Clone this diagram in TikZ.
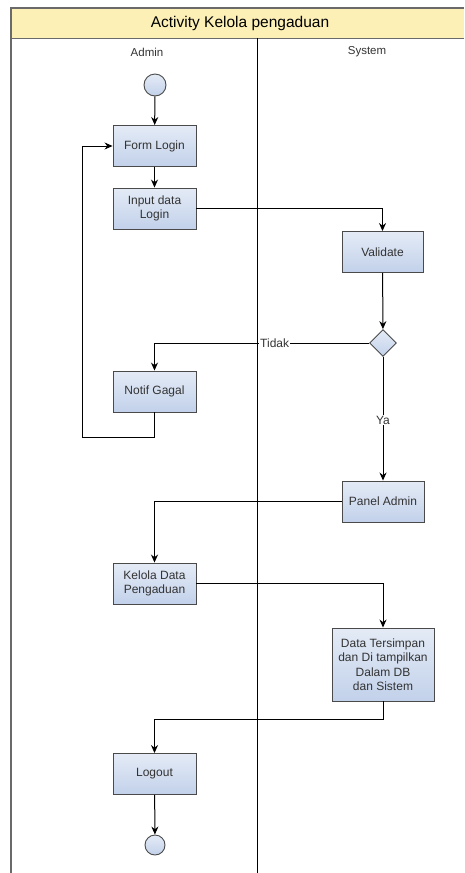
\documentclass[tikz,border=0pt]{standalone}
\usepackage{fontspec}
\setmainfont{Liberation Sans}
\usetikzlibrary{arrows.meta,shapes.geometric}
\definecolor{boxtop}{HTML}{E4EBF6}
\definecolor{boxbot}{HTML}{C2D1EA}
\definecolor{boxline}{HTML}{4A4A4A}
\definecolor{titlefill}{HTML}{FDF0B6}
\definecolor{framegray}{HTML}{6A6A6A}
\definecolor{txt}{HTML}{333333}
\tikzset{
  act/.style={draw=boxline, line width=0.9pt, top color=boxtop, bottom color=boxbot,
    minimum width=83pt, minimum height=41pt, align=center, inner sep=2pt,
    font=\fontsize{12}{14.5}\selectfont, text=txt},
  dot/.style={circle, draw=boxline, line width=0.9pt, top color=boxtop, bottom color=boxbot, inner sep=0pt},
  choice/.style={diamond, aspect=1, draw=boxline, line width=0.9pt, top color=boxtop, bottom color=boxbot,
    inner sep=0pt, minimum size=27pt},
  flow/.style={line width=1pt, -{Stealth[length=8pt,width=7pt]}},
  guard/.style={fill=white, inner sep=1pt, text=txt, font=\fontsize{12}{14}\selectfont}
}
\begin{document}
\begin{tikzpicture}[x=1pt, y=-1pt]
    \useasboundingbox (0,0) rectangle (464,873);
    % swimlane frame
    \fill[titlefill] (11,8) rectangle (464,38);
    \draw[framegray, line width=1.4pt] (11,873) -- (11,8) -- (464,8);
    \draw[framegray, line width=1pt] (11,38) -- (464,38);
    \draw[black, line width=0.9pt] (257,38) -- (257,873);
    \node (title) at (240,23) {\fontsize{15.5}{18}\selectfont Activity Kelola pengaduan};
    \node[text=txt] (admin) at (147,52) {\fontsize{11.5}{13}\selectfont Admin};
    \node[text=txt] (system) at (367,52) {\fontsize{11.5}{13}\selectfont System};
    % activities
    \node[dot, minimum size=22pt] (start) at (155,85) {};
    \node[act] (formlogin) at (154.5,146) {Form Login};
    \node[act] (inputlogin) at (154.5,208.5) {Input data\\Login};
    \node[act, minimum width=81pt] (validate) at (382.5,252) {Validate};
    \node[choice] (cek) at (383,343) {};
    \node[act] (notif) at (154.5,391.5) {Notif Gagal};
    \node[act, minimum width=82pt] (panel) at (383,501.5) {Panel Admin};
    \node[act] (kelola) at (154.5,583.5) {Kelola Data\\Pengaduan};
    \node[act, minimum width=102pt, minimum height=73pt] (simpan) at (383,664.5)
        {Data Tersimpan\\dan Di tampilkan\\Dalam DB\\dan Sistem};
    \node[act] (logout) at (154.5,774) {Logout};
    \node[dot, minimum size=20pt] (finish) at (155,845) {};
    \coordinate (balik) at (82,437);
    \coordinate (belok) at (383,719);
    % flows
    \draw[flow] (start) -- (formlogin);
    \draw[flow] (formlogin) -- (inputlogin);
    \draw[flow] (inputlogin.east) -| (validate.north);
    \draw[flow] (validate) -- (cek);
    \draw[flow] (cek.west) -| (notif.north) node[guard, pos=0.22] {Tidak};
    \draw[flow] (notif.south) |- (balik) |- (formlogin.west);
    \draw[flow] (cek.south) -- (panel.north) node[guard, pos=0.51] {Ya};
    \draw[flow] (panel.west) -| (kelola.north);
    \draw[flow] (kelola.east) -| (simpan.north);
    \draw[flow] (simpan.south) -- (belok) -| (logout.north);
    \draw[flow] (logout) -- (finish);
\end{tikzpicture}
\end{document}
